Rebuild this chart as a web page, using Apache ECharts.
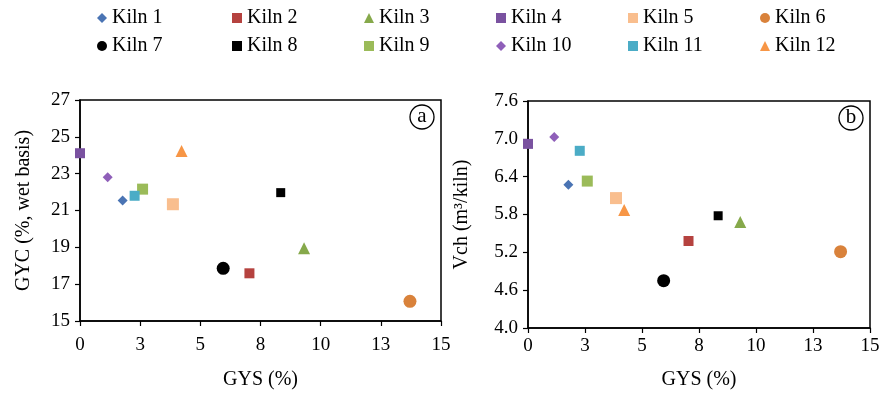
<!DOCTYPE html>
<html><head><meta charset="utf-8">
<script src="https://cdn.jsdelivr.net/npm/echarts@6/dist/echarts.min.js"></script>
<style>html,body{margin:0;padding:0;background:#fff}#c{width:884px;height:395px}</style>
</head><body><div id="c"></div>
<script>
const kilns = ['Kiln 1','Kiln 2','Kiln 3','Kiln 4','Kiln 5','Kiln 6','Kiln 7','Kiln 8','Kiln 9','Kiln 10','Kiln 11','Kiln 12'];
const gys = [1.77, 7.04, 9.31, 0.0, 3.86, 13.71, 5.95, 8.34, 2.60, 1.15, 2.27, 4.22];
const gyc = [21.54, 17.59, 18.95, 24.11, 21.34, 16.07, 17.86, 21.97, 22.16, 22.81, 21.80, 24.23];
const vch = [6.27, 5.38, 5.68, 6.92, 6.06, 5.21, 4.75, 5.78, 6.33, 7.03, 6.81, 5.87];
const xTicks = {min: 0, max: 15, interval: 2.5};

const colors = ['#4A74B4','#B5423F','#86A94B','#7A52A0','#F9BE8E','#D9823B','#000000','#000000','#9BBB59','#8F5FB9','#4BACC6','#F79646'];
const symbols = ['diamond','rect','triangle','rect','rect','circle','circle','rect','rect','diamond','rect','triangle'];
const sizes = [10,10,12,10,12,13,13,9,11,10,10,12];
const legendX = [97,232,364,496,628,760];
const legendY = [3,31];

const font = 'Liberation Serif';
const chart = echarts.init(document.getElementById('c'));

const series = [];
kilns.forEach((k,i)=>{
  series.push({name:k,type:'scatter',xAxisIndex:0,yAxisIndex:0,symbol:symbols[i],symbolSize:sizes[i],
    itemStyle:{color:colors[i],opacity:1},data:[[gys[i],gyc[i]]]});
  series.push({name:k,type:'scatter',xAxisIndex:1,yAxisIndex:1,symbol:symbols[i],symbolSize:sizes[i],
    itemStyle:{color:colors[i],opacity:1},data:[[gys[i],vch[i]]]});
});

const legends = kilns.map((k,i)=>({
  data:[k], left: legendX[i%6]-5, top: legendY[Math.floor(i/6)],
  itemWidth:10,itemHeight:10,itemGap:3,
  textStyle:{fontFamily:font,fontSize:20,color:'#000'}
}));

const axisCommon = {
  axisLine:{show:true,onZero:false,lineStyle:{color:'#000',width:1.5}},
  axisTick:{show:true,inside:false,length:5,lineStyle:{color:'#000',width:1.2}},
  splitLine:{show:false},
  axisLabel:{fontFamily:font,fontSize:19,color:'#000'},
  nameTextStyle:{fontFamily:font,fontSize:20,color:'#000'},
  nameLocation:'middle'
};

const option = {
  animation:false,
  legend: legends,
  grid:[
    {left:80,top:100,width:361,height:224,show:true,borderColor:'#000',borderWidth:1.5},
    {left:528,top:101,width:342,height:230,show:true,borderColor:'#000',borderWidth:1.5}
  ],
  xAxis:[
    Object.assign({},axisCommon,{gridIndex:0,type:'value',min:xTicks.min,max:xTicks.max,interval:xTicks.interval,
      name:'GYS (%)',nameGap:49,axisLabel:Object.assign({},axisCommon.axisLabel,{margin:15,formatter:v=>String(Math.round(v))})}),
    Object.assign({},axisCommon,{gridIndex:1,type:'value',min:xTicks.min,max:xTicks.max,interval:xTicks.interval,
      name:'GYS (%)',nameGap:42,axisLabel:Object.assign({},axisCommon.axisLabel,{margin:9,formatter:v=>String(Math.round(v))})})
  ],
  yAxis:[
    Object.assign({},axisCommon,{gridIndex:0,type:'value',min:15,max:27,interval:2,
      name:'GYC (%, wet basis)',nameGap:46,axisLabel:Object.assign({},axisCommon.axisLabel,{margin:10})}),
    Object.assign({},axisCommon,{gridIndex:1,type:'value',min:4.0,max:7.6,interval:0.6,
      name:'Vch (m³/kiln)',nameGap:56,axisLabel:Object.assign({},axisCommon.axisLabel,{margin:10,formatter:v=>v.toFixed(1)})})
  ],
  graphic:[
    {type:'circle',shape:{cx:422,cy:117,r:12},style:{fill:'#fff',stroke:'#000',lineWidth:1.3}},
    {type:'text',x:422,y:116,style:{text:'a',fontFamily:font,fontSize:21,fill:'#000',align:'center',verticalAlign:'middle'}},
    {type:'circle',shape:{cx:851,cy:118,r:12},style:{fill:'#fff',stroke:'#000',lineWidth:1.3}},
    {type:'text',x:851,y:117,style:{text:'b',fontFamily:font,fontSize:21,fill:'#000',align:'center',verticalAlign:'middle'}}
  ],
  series: series
};
chart.setOption(option);
</script></body></html>
